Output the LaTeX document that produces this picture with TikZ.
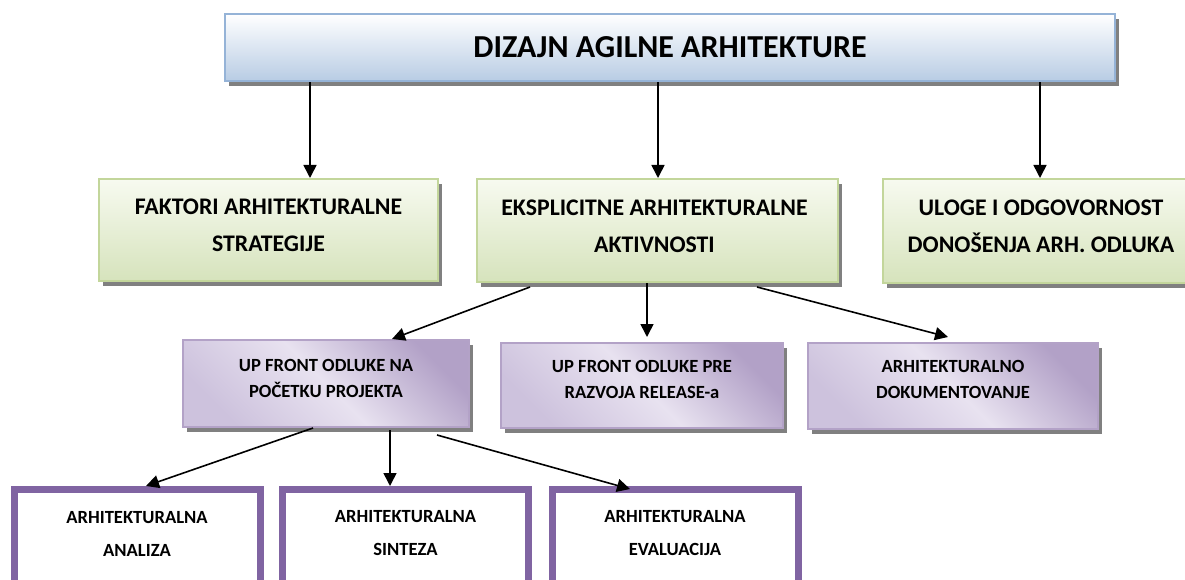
\documentclass[tikz,border=0pt]{standalone}
\usepackage{fontspec}
\setmainfont{Carlito}
\usetikzlibrary{arrows.meta,shadows}
\definecolor{tb}{HTML}{B8CCE4}
\definecolor{tbd}{HTML}{95B3D7}
\definecolor{gl}{HTML}{F7FAF0}
\definecolor{gd}{HTML}{D6E3BC}
\definecolor{gb}{HTML}{C3D69B}
\definecolor{pl}{HTML}{E8E2F0}
\definecolor{pm}{HTML}{CDC2DD}
\definecolor{pd}{HTML}{B2A1C7}
\definecolor{pb}{HTML}{B3A2C7}
\definecolor{pv}{HTML}{8064A2}
\pgfdeclarehorizontalshading{purp}{100bp}{color(0bp)=(pm); color(25bp)=(pm); color(50bp)=(pl); color(75bp)=(pd); color(100bp)=(pd)}
\tikzset{
  shad/.style={drop shadow={shadow xshift=4pt,shadow yshift=-5pt,fill=black!50,opacity=1}},
  titlebox/.style={draw=tbd,line width=2.5pt,top color=white,bottom color=tb,shad},
  greenbox/.style={draw=gb,line width=2pt,top color=gl,bottom color=gd,shad},
  purpbox/.style={draw=pb,line width=2pt,shading=purp,shading angle=45,shad},
  thickbox/.style={draw=pv,line width=7pt,fill=white},
  arr/.style={-{Triangle[length=13pt,width=13pt]},line width=1.6pt},
  ttext/.style={font=\fontsize{32}{36}\selectfont\bfseries},
  gtext/.style={font=\fontsize{23.8}{37}\selectfont\bfseries,align=center},
  ptext/.style={font=\fontsize{18.6}{26}\selectfont\bfseries,align=center},
  atext/.style={font=\fontsize{18.6}{33}\selectfont\bfseries,align=center},
}
\begin{document}
\begin{tikzpicture}[x=1pt,y=-1pt]
\useasboundingbox (0,0) rectangle (1185,580);
\clip (0,0) rectangle (1185,580);
% title
\node[titlebox,minimum width=890pt,minimum height=67pt,ttext] (t) at (670,47.5) {DIZAJN AGILNE ARHITEKTURE};
% level 2
\node[greenbox,minimum width=339pt,minimum height=102pt] (f1) at (268.5,230) {};
\node[greenbox,minimum width=361pt,minimum height=103pt] (f2) at (657.5,230.5) {};
\node[greenbox,minimum width=316pt,minimum height=104pt] (f3) at (1041,231) {};
\node[gtext] (f1t) at ([yshift=4.5pt]f1.center) {FAKTORI ARHITEKTURALNE\\STRATEGIJE};
\node[gtext] (f2t) at ([yshift=4.5pt,xshift=-3pt]f2.center) {EKSPLICITNE ARHITEKTURALNE\\AKTIVNOSTI};
\node[gtext] (f3t) at ([yshift=4.5pt]f3.center) {ULOGE I ODGOVORNOST\\DONOŠENJA ARH. ODLUKA};
% level 3
\node[purpbox,minimum width=286pt,minimum height=87pt] (p1) at (326,383.5) {};
\node[purpbox,minimum width=282pt,minimum height=85pt] (p2) at (642,385.5) {};
\node[purpbox,minimum width=290pt,minimum height=86pt] (p3) at (953,386) {};
\node[ptext] (p1t) at ([yshift=5.5pt]p1.center) {UP FRONT ODLUKE NA\\POČETKU PROJEKTA};
\node[ptext] (p2t) at ([yshift=6.5pt]p2.center) {UP FRONT ODLUKE PRE\\RAZVOJA RELEASE-a};
\node[ptext] (p3t) at ([yshift=7pt]p3.center) {ARHITEKTURALNO\\DOKUMENTOVANJE};
% level 4
\node[thickbox,minimum width=246pt,minimum height=131pt] (a1) at (137,555) {};
\node[thickbox,minimum width=246pt,minimum height=131pt] (a2) at (405.5,555) {};
\node[thickbox,minimum width=246pt,minimum height=131pt] (a3) at (675,555) {};
\node[atext] (a1t) at ([yshift=-47.5pt]a1.north) {ARHITEKTURALNA\\ANALIZA};
\node[atext] (a2t) at ([yshift=-47.5pt]a2.north) {ARHITEKTURALNA\\SINTEZA};
\node[atext] (a3t) at ([yshift=-47.5pt]a3.north) {ARHITEKTURALNA\\EVALUACIJA};
% arrows from title
\draw[arr] ([xshift=-360pt]t.south) -- ([xshift=41.5pt]f1.north);
\draw[arr] ([xshift=-12pt]t.south) -- ([xshift=0.5pt]f2.north);
\draw[arr] ([xshift=370pt]t.south) -- ([xshift=-1pt]f3.north);
% arrows from f2
\draw[arr] ([xshift=-127.5pt,yshift=-4pt]f2.south) -- ([xshift=66pt]p1.north);
\draw[arr] ([xshift=-10.5pt]f2.south) -- ([xshift=5pt,yshift=5pt]p2.north);
\draw[arr] ([xshift=99.5pt,yshift=-4pt]f2.south) -- ([xshift=-5pt,yshift=5pt]p3.north);
% arrows from p1
\draw[arr] ([xshift=-13pt]p1.south) -- ([xshift=9pt]a1.north);
\draw[arr] ([xshift=64pt,yshift=-2pt]p1.south) -- ([xshift=-15.5pt]a2.north);
\draw[arr] ([xshift=111pt,yshift=-7pt]p1.south) -- ([xshift=-45pt,yshift=-3pt]a3.north);
\end{tikzpicture}
\end{document}
